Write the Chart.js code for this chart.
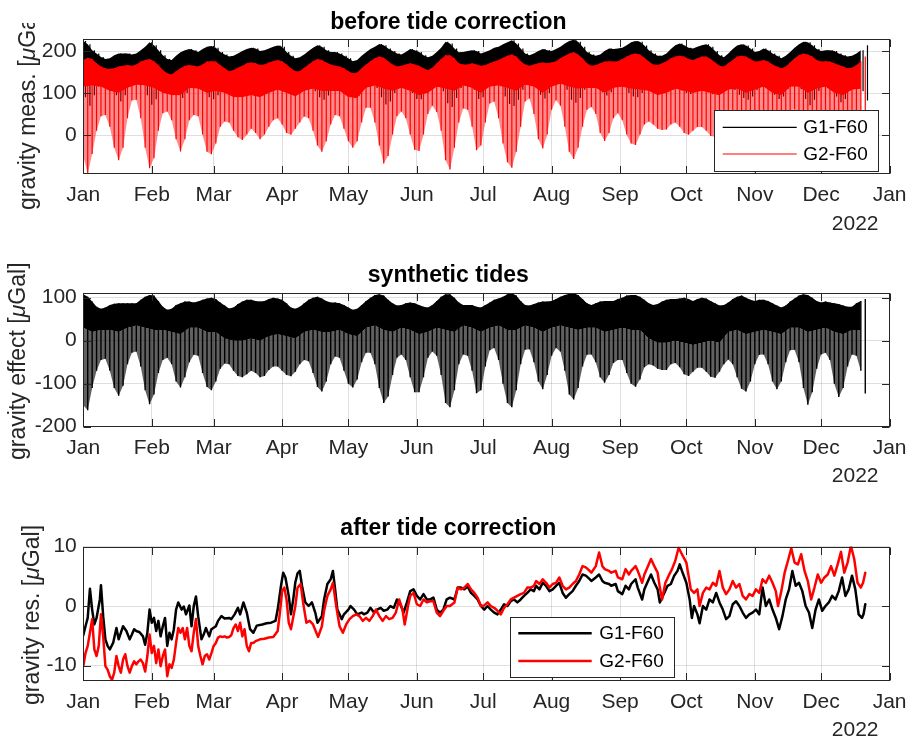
<!DOCTYPE html>
<html>
<head>
<meta charset="utf-8">
<script src="https://cdn.jsdelivr.net/npm/chart.js@4.4.1/dist/chart.umd.min.js"></script>
<style>
html,body{margin:0;padding:0;background:#fff;}
#wrap{position:relative;width:915px;height:738px;overflow:hidden;background:#fff;}
canvas{position:absolute;left:0;}
</style>
</head>
<body>
<div id="wrap">
<canvas id="c1" width="915" height="250" style="top:0px"></canvas>
<canvas id="c2" width="915" height="250" style="top:250px"></canvas>
<canvas id="c3" width="915" height="238" style="top:500px"></canvas>
</div>
<script>
// ---------------- DATA ----------------
const monthTicks = [0,31,59,90,120,151,181,212,243,273,304,334,365];
const monthLabels = ['Jan','Feb','Mar','Apr','May','Jun','Jul','Aug','Sep','Oct','Nov','Dec','Jan'];
const yearLabel = '2022';
const ticksTop = [0,100,200];
const ticksMid = [-200,-100,0,100];
const ticksBot = [-10,0,10];
const seriesNames = ['G1-F60','G2-F60'];
const plotTitles = ['before tide correction','synthetic tides','after tide correction'];
const yTitleTop = [['gravity meas. [',false],['\u03bc',true],['Gal]',false]];
const yTitleMid = [['gravity effect [',false],['\u03bc',true],['Gal]',false]];
const yTitleBot = [['gravity res. [',false],['\u03bc',true],['Gal]',false]];

// envelope values every 2 days (day 0..354): upper / lower extremes of the tidal oscillation
const ENV_STEP = 2;
const CORE_STEP = 4;
const g1Hi = [224,216,202,194,186,181,183,190,194,194,194,192,194,202,210,221,214,202,190,181,
179,189,197,202,205,202,198,205,210,212,208,198,192,187,189,194,200,205,208,206,
200,202,206,210,213,210,198,189,183,185,192,200,208,214,210,202,198,198,194,189,
183,176,179,189,197,205,210,217,214,206,200,194,192,198,205,202,198,190,185,189,
198,208,222,218,206,197,198,200,202,200,194,198,202,208,210,216,221,226,218,206,
194,190,194,200,205,202,200,205,210,218,224,227,222,210,198,192,189,192,200,206,
205,206,208,214,221,224,222,213,202,194,189,189,194,205,214,218,214,208,206,210,
214,216,210,200,190,185,194,205,213,216,213,206,198,200,206,202,194,189,183,189,
198,208,216,222,221,214,205,200,202,202,200,194,190,187,189,194,202,214];
const g1Lo = [90,70,95,115,128,130,118,95,80,95,118,132,134,120,95,72,85,108,125,128,
118,100,88,100,120,130,128,110,90,85,95,110,115,114,106,98,95,100,106,102,
95,100,108,114,116,110,102,100,106,112,118,116,104,90,84,94,110,119,118,106,
94,88,94,112,126,126,112,90,73,80,100,118,122,116,100,86,85,100,120,128,
122,104,76,67,88,112,125,124,108,86,90,112,130,132,116,92,74,69,84,108,
132,135,120,96,87,100,124,133,128,108,84,77,88,108,124,127,120,102,94,102,
116,121,114,100,92,90,100,110,113,110,104,102,103,108,110,106,100,98,102,106,
106,102,97,96,102,109,113,107,96,88,84,92,107,117,118,111,96,86,92,109,
121,123,109,86,71,84,105,119,120,113,92,78,86,105,118,117,104,82];
const g1Core = [172,173,155,149,155,159,160,171,168,147,136,151,159,155,167,167,151,147,157,165,
159,165,171,160,144,152,168,171,160,155,144,141,160,175,176,160,157,163,157,147,
163,182,175,160,163,157,163,171,181,179,160,160,165,165,175,186,184,163,159,167,
167,173,184,184,167,159,168,179,179,171,179,173,157,163,179,179,167,171,160,151,
165,182,184,171,168,163,155,152,168];

const g2Hi = [179,184,181,171,163,159,157,159,163,165,167,165,168,175,179,181,176,167,155,147,
144,152,159,165,167,165,163,168,175,176,175,167,159,152,155,160,165,171,173,171,
167,168,173,176,179,176,168,159,152,152,160,168,176,181,179,173,168,165,163,159,
152,147,149,159,168,176,183,187,184,176,168,163,165,168,171,168,165,159,155,160,
171,181,190,190,183,171,168,168,171,168,165,167,171,175,179,184,189,192,187,176,
168,165,168,171,173,171,173,176,183,189,194,197,192,183,171,165,167,171,175,176,
175,176,181,187,192,194,192,184,175,168,167,171,176,183,187,189,187,181,179,183,
187,187,181,173,165,163,171,179,187,189,187,181,175,176,179,175,168,163,159,163,
173,183,190,194,192,187,179,175,176,175,171,167,163,159,160,167,176,187];
const g2Lo = [-50,-92,-45,10,45,48,20,-30,-60,-30,40,82,84,40,-30,-79,-55,10,52,56,
35,-10,-39,-10,35,48,45,0,-40,-46,-20,20,32,30,10,-5,-12,0,15,5,
-10,0,20,35,40,25,5,0,15,30,44,40,10,-25,-40,-15,25,48,45,15,
-15,-30,-15,30,65,65,30,-25,-68,-50,0,45,56,40,0,-35,-38,0,50,70,
55,10,-60,-82,-30,30,63,60,20,-36,-25,30,75,80,40,-20,-65,-78,-40,20,
80,87,50,-10,-32,0,60,83,70,20,-40,-57,-30,20,60,67,50,5,-14,5,
40,52,35,0,-20,-24,0,25,32,25,15,12,13,25,30,20,5,0,10,19,
19,10,-2,-4,10,27,37,22,-5,-25,-36,-15,22,47,50,32,-5,-31,-15,27,
57,61,27,-30,-67,-35,17,52,54,37,-15,-49,-30,17,50,47,15,-41];
const g2Core = [115,118,115,105,100,112,120,118,112,100,95,95,112,110,100,105,100,90,90,95,
90,100,108,100,92,105,110,105,105,105,90,88,112,118,110,105,112,105,95,100,
115,110,105,118,112,100,115,118,112,105,120,115,100,115,122,115,110,112,112,100,
112,115,110,108,105,95,100,110,105,100,105,100,95,108,110,100,108,115,100,95,
115,115,100,110,115,100,95,108,110];

const tideHi = [108,102,91,79,74,77,83,86,87,87,87,87,87,95,102,106,105,92,79,72,
74,83,87,91,91,89,91,95,98,100,97,89,82,75,77,85,91,95,95,92,
91,92,97,100,98,95,87,77,74,79,87,95,100,102,98,92,89,89,87,83,
77,72,74,83,92,100,106,108,105,95,87,82,83,87,89,87,83,79,77,83,
92,102,108,108,100,89,83,83,83,79,77,83,89,95,98,102,108,110,105,92,
83,82,85,89,91,91,92,97,102,106,109,110,106,97,87,83,87,91,92,92,
92,97,100,105,106,106,102,95,87,83,85,91,95,97,97,98,100,97,92,97,
100,98,92,87,82,83,89,97,102,105,100,95,92,95,95,92,87,82,77,82,
91,98,105,108,106,100,92,89,91,89,87,85,82,79,79,87,92,97];
const tideLo = [-150,-162,-110,-70,-45,-42,-70,-110,-128,-105,-55,-28,-25,-60,-115,-148,-125,-75,-45,-40,
-55,-95,-109,-85,-50,-33,-35,-75,-108,-115,-95,-65,-53,-55,-70,-82,-85,-78,-70,-75,
-85,-82,-68,-60,-60,-70,-80,-83,-72,-55,-45,-48,-75,-108,-118,-95,-55,-37,-40,-70,
-100,-109,-90,-50,-28,-28,-55,-110,-145,-130,-80,-40,-32,-45,-85,-120,-120,-85,-40,-25,
-35,-80,-145,-155,-115,-55,-32,-35,-70,-122,-115,-60,-22,-17,-45,-100,-145,-155,-115,-55,
-21,-20,-50,-95,-113,-80,-35,-17,-25,-70,-125,-137,-110,-60,-33,-32,-50,-85,-98,-80,
-52,-45,-45,-75,-100,-107,-90,-62,-55,-58,-65,-68,-68,-55,-52,-62,-78,-82,-72,-63,
-63,-72,-84,-86,-72,-55,-44,-55,-85,-112,-118,-95,-55,-33,-32,-55,-95,-113,-95,-50,
-22,-21,-50,-110,-149,-120,-65,-32,-28,-45,-100,-131,-110,-60,-32,-35,-70,-123];
const tideCore = [30,20,25,25,20,30,35,30,25,25,20,15,30,30,20,20,5,0,0,5,
0,10,15,10,5,20,25,20,20,25,15,10,30,35,25,20,30,25,15,20,
30,25,20,35,30,20,30,35,25,25,35,30,20,30,35,30,25,30,30,20,
25,30,25,25,5,-5,-5,0,-5,-10,-5,0,-5,20,25,15,20,25,20,15,
30,30,20,25,30,20,15,25,25];

// residuals after tide correction: [day of year, µGal]
const g1Res = [[0,-4.9],[1,-3.4],[2,-2],[3,2.9],[4,-0.6],[5,-3.1],[6,-2],[7.5,1.1],[8,3.5],[9,-1.7],[10,-5.6],[11,-6.7],[12,-7.3],[13.5,-6.2],[15,-3.7],[16,-5.6],[17,-4.5],[18,-3.4],[19.5,-4.2],[21,-5.6],[22,-4.8],[23,-3.9],[24,-4.2],[25.5,-4.4],[27,-5.1],[28,-6.5],[29,-4.5],[30,-0.6],[31,-2.8],[32,-2],[33,-4.2],[34,-2.5],[35,-5.1],[36,-3.4],[37,-2],[38,-6.7],[39,-4.5],[40,-5.6],[41,-3.9],[42,-0.6],[43,0.6],[44.5,-0.6],[45.5,-0.1],[46.5,-1.4],[48,0.1],[49,-3.4],[50,0],[51,1.6],[52,-1.7],[53.5,-5.6],[54.5,-4.8],[55.5,-3.7],[57,-5.1],[58,-3.9],[60,-3.4],[61,-2.5],[62.5,-1.7],[64,-2.1],[66,-2],[67,-2.2],[68.5,-1.4],[70,-0.3],[71,-1.4],[72.5,0.6],[74,-1.1],[75.5,-3.9],[77,-4.5],[78.5,-3.3],[81,-3.1],[83,-2.9],[85,-2.8],[87,-2.5],[88,-0.6],[89.5,3.4],[90.5,5.6],[91.5,4.8],[93,1.7],[94,-1.4],[95,1],[96,4],[97,5.5],[98,5.9],[99,3.4],[100.5,0.6],[102,0],[103.5,0.6],[105,-1.1],[106,-2.8],[108,-1.7],[109,1.1],[110.5,3.7],[112,4.5],[113,5.9],[114,2.8],[115,-0.6],[117,-2.2],[118,-1.4],[120,-0.6],[121,0],[122.6,-0.6],[124,-1.4],[126,-1.1],[127,-1.4],[128.6,-1.1],[130,-0.3],[131.6,-1.1],[133,-0.6],[134.6,-0.3],[136,-0.8],[137.6,-0.6],[139,0],[140.6,-0.3],[142,1.1],[143.5,0.3],[145,-1.1],[146.5,0.6],[148,2.5],[149.5,2.8],[151,1.7],[152.5,1.1],[154,2],[155.5,1.1],[157,1.1],[158.5,1.4],[160,-0.6],[161.5,-1.1],[163,-0.6],[164.5,1.1],[166,1.4],[168,1.1],[169.5,3.1],[171,3.1],[172.5,2.8],[174,3.3],[175.5,2.2],[177,1.7],[178.5,1.1],[180,0],[181.5,-0.6],[183,0],[184.5,-0.6],[186,-1.1],[187.5,-1.4],[189,-0.6],[190.5,0.3],[192,0],[193.5,0.8],[195,1.1],[196.5,0.6],[198,1.1],[199.5,1.7],[201,2.2],[202.5,2.8],[204,2.5],[205,3.4],[206.5,2.8],[208,3.9],[209.5,3.4],[211,2.5],[212.5,2.8],[214,3.4],[215.5,3.9],[217,2.2],[218.5,1.4],[220,2],[221.5,2.5],[223,3.4],[224.5,4.2],[226,5.3],[227.5,5.1],[229,4.6],[230,4.2],[232,4.8],[233.5,5.3],[235,4.2],[236,3.9],[238,3.7],[239,3.4],[241,3.7],[242,2.5],[244,2],[245.5,3.4],[247,2.8],[248,3.7],[250,4.5],[251,3.1],[253,1.1],[254,2.8],[256,4.5],[257,5.3],[258.5,3.9],[260,2.8],[261,0.6],[263,2.2],[264.5,3.4],[266,3.7],[267.5,5.1],[269,5.9],[270,7],[271,5.9],[273,3.9],[274.5,1.1],[275.5,-2],[276.5,0],[278,-1.4],[279,-2.9],[280.5,0],[282,-0.6],[283.5,1.1],[285,0.6],[286.5,2.2],[288,0.6],[289.5,-0.6],[291,-2.2],[292.5,-1.7],[294,0.3],[295.5,0.8],[297,0],[298.5,-1.1],[300,-2],[301.5,-1.4],[303,-1.1],[304.5,-0.6],[306,-1.4],[307.5,3.1],[309,0],[310.5,1.1],[312,-0.6],[313.5,-2],[315,-3.9],[316.5,-1.7],[318,1.1],[319.5,2.8],[321,5.9],[322.5,3.4],[324,3.9],[325.5,2.5],[327,0],[328.5,-1.1],[330,-3.7],[331.5,-0.6],[333,1.1],[334.5,-0.8],[336,0],[337.5,0.6],[339,1.7],[340.5,1.1],[342,2.5],[343.5,4.8],[345,1.7],[346.5,2.8],[348,5.1],[349.5,2.8],[351,-1.4],[352.5,-2],[353.2,-1.4],[354,0.3]];
const g2Res = [[0,-10.1],[1,-7.9],[2,-6.7],[3,-4.5],[4,-2.2],[5,-7.3],[6,-8.4],[7,-6.7],[8,-1.4],[9,-5.1],[10,-10.1],[11,-10.7],[12,-11.8],[13,-12.4],[14,-11.2],[15,-8.4],[16,-10.1],[17,-11.2],[18,-9],[19,-8.1],[20,-10.1],[21,-11.2],[22,-10.1],[23,-9.3],[24,-9.8],[25,-9.3],[26,-9],[27,-9.6],[28,-11],[29,-8.4],[30,-4.8],[31,-7.9],[32,-6.7],[33,-9.6],[34,-7.3],[35,-10.1],[36,-8.4],[37,-7.3],[38,-11.8],[39,-9.8],[40,-10.4],[41,-9],[42,-6.2],[43,-3.7],[44,-4.5],[45,-3.7],[46,-5.6],[47,-3.7],[48,-6.7],[49,-7.6],[50,-4.5],[51,-2.2],[52,-6.7],[53,-8.4],[54,-9.8],[55,-8.4],[56,-8.1],[57,-9],[58,-7.9],[59,-6.7],[60,-6.2],[61,-5.3],[62,-5.1],[63,-5.2],[64,-5.1],[65,-5.3],[66,-5.2],[67,-4.9],[68,-3.7],[69,-3.1],[70,-4.2],[71,-2.8],[72,-5.1],[73,-3.9],[74,-6.7],[75,-7.6],[76,-6.2],[77,-6.2],[78,-5.9],[80,-5.6],[82,-5.5],[84,-5.3],[86,-5.2],[88,-4.2],[89,-1.1],[90,2.5],[91,3.1],[92,1.1],[93,-2.8],[94,-3.9],[96,0],[97,3.1],[98.4,3.7],[99.5,0.6],[101,-2.8],[102.5,-2.5],[104,-3.1],[105.5,-4.5],[106.3,-5.2],[108,-3.4],[109,-0.8],[110.5,1.7],[112,2.8],[113,3.9],[114.5,0],[116,-3.4],[117.5,-4.5],[119,-3.1],[120.5,-2.2],[122,-1.7],[123.5,-1.4],[125,-1.7],[126.5,-2.5],[128,-2],[129.5,-2.5],[131,-1.7],[132.5,-0.6],[134,-1.7],[135.5,-2.5],[137,-1.7],[138.5,-2.2],[140,-2],[141.5,-1.1],[143,1.1],[144.5,-0.6],[145.5,-3.1],[147,0],[148,1.7],[149.5,2.2],[151,0.3],[152.5,0],[154,1.1],[155.5,0.6],[157,0.8],[158.5,0.8],[160,-1.1],[161.5,-1.7],[163,-0.8],[164.5,0],[166,0],[168,0.6],[169.5,3.1],[171,2.8],[172.5,3.1],[174,3.7],[175.5,2.8],[177,2.2],[178.5,1.4],[180,0],[181.5,0.1],[183,0.6],[184.5,0],[186,-0.3],[187.5,-0.8],[189,-1.4],[190.5,-0.3],[192,0.3],[193.5,1.1],[195,1.4],[196.5,1.7],[198,2],[199.5,2.2],[201,3.1],[202.5,3.1],[204,3.4],[205,4.2],[206.5,3.7],[208,4.5],[209.5,3.9],[211,3.1],[212.5,3.7],[214,3.9],[215.5,4.8],[217,3.4],[218.5,2.8],[220,3.1],[221.5,3.7],[223,4.2],[224.5,5.3],[226,6.7],[227.5,6.5],[229,6],[230,5.6],[232,6.7],[233.5,9],[235,6.7],[236,6.2],[238,5.9],[239,5.6],[241,5.9],[242,4.8],[244,4.5],[245.5,6.2],[247,5.3],[248,5.9],[250,6.7],[251,5.9],[253,3.9],[254,5.3],[256,7],[257,7.9],[258.5,6.7],[260,5.6],[261,3.1],[262,1.1],[263.5,3.9],[265,5.1],[266.5,6.2],[268,7.6],[269.5,9.8],[271,8.7],[273,7.3],[274,5.1],[275,2.8],[276.5,2.2],[278,2.8],[279,0],[280.5,2.2],[282,3.1],[283.5,2.8],[285,3.9],[286.5,3.4],[288,5.9],[289.5,3.1],[291,2],[292.5,2.8],[294,4.2],[295.5,3.1],[297,3.7],[298.5,1.7],[300,1.1],[301.5,2],[303,1.7],[304.5,2.8],[306,2.2],[307.5,4.5],[309,3.9],[310.5,5.1],[312,3.9],[313.5,2.5],[314.5,0],[316,2.5],[317.5,5.6],[319,7.6],[320.5,9.7],[322,7.3],[323.5,7],[325,8.7],[326.5,5.9],[328,4.2],[329.5,1.1],[331,3.1],[332.5,5.3],[334,3.9],[335.5,4.8],[337,5.3],[338.5,6.7],[340,5.1],[341.5,7],[343,9.1],[344.5,5.6],[346,7.3],[347.5,10.1],[349,7.9],[350.5,3.9],[352,3.1],[353,3.9],[354,5.6]];

// ---------------- RENDERING ----------------
const FONT = '"Liberation Sans", Arial, Helvetica, sans-serif';
const AX = '#262626';
const GRID = 'rgba(38,38,38,0.15)';
const RED = '#ff0000';
const BLACK = '#000000';
const NONE = 'rgba(0,0,0,0)';

function rangeBars(hi, lo, shift){ return hi.map((v,i)=>({x: i*ENV_STEP + shift, y: [lo[i], v]})); }
function envelope(arr, step){ return arr.map((v,i)=>({x:i*step, y:v})); }
function pairs(arr){ return arr.map(p=>({x:p[0], y:p[1]})); }

const matlabPlugin = {
  id: 'matlab',
  afterDraw(chart, args, o) {
    const ctx = chart.ctx, a = chart.chartArea, xs = chart.scales.x, ys = chart.scales.y;
    ctx.save();
    const L = Math.round(a.left)+0.5, R = Math.round(a.right)-0.5, T = Math.round(a.top)+0.5, B = Math.round(a.bottom)-0.5;
    ctx.strokeStyle = AX; ctx.lineWidth = 1;
    ctx.beginPath();
    xs.ticks.forEach(t=>{ const p = Math.round(xs.getPixelForValue(t.value))+0.5;
      ctx.moveTo(p,B); ctx.lineTo(p,B-7.5); ctx.moveTo(p,T); ctx.lineTo(p,T+7.5); });
    ys.ticks.forEach(t=>{ const p = Math.round(ys.getPixelForValue(t.value))+0.5;
      ctx.moveTo(L,p); ctx.lineTo(L+7.5,p); ctx.moveTo(R,p); ctx.lineTo(R-7.5,p); });
    ctx.stroke();
    ctx.strokeRect(L, T, R-L, B-T);
    // y title with italic mu
    ctx.save();
    if (o.titleClipTop) { ctx.beginPath(); ctx.rect(0, o.titleClipTop, a.left - 10, chart.height); ctx.clip(); }
    ctx.translate(o.yTitleX, o.yTitleStart);
    ctx.rotate(-Math.PI/2);
    ctx.textBaseline = 'middle'; ctx.textAlign = 'left'; ctx.fillStyle = AX;
    let px = 0;
    o.yTitle.forEach(([txt, it])=>{
      ctx.font = (it ? 'italic ' : '') + '23px ' + FONT;
      ctx.fillText(txt, px, 0);
      px += ctx.measureText(txt).width;
    });
    ctx.restore();
    // year label
    ctx.font = '21px ' + FONT; ctx.fillStyle = AX; ctx.textAlign = 'right'; ctx.textBaseline = 'middle';
    ctx.fillText(yearLabel, 878.5, a.bottom + 49.5);
    // legend
    if (o.legend) {
      const g = o.legend;
      const bx0 = Math.round(g.x0)+0.5, by0 = Math.round(g.y0)+0.5, bx1 = Math.round(g.x1)+0.5, by1 = Math.round(g.y1)+0.5;
      ctx.fillStyle = '#ffffff';
      ctx.fillRect(bx0, by0, bx1-bx0, by1-by0);
      ctx.strokeStyle = AX; ctx.lineWidth = 1;
      ctx.strokeRect(bx0, by0, bx1-bx0, by1-by0);
      g.items.forEach(it=>{
        ctx.strokeStyle = it.color; ctx.lineWidth = it.lw;
        ctx.beginPath(); ctx.moveTo(g.lx0, it.y); ctx.lineTo(g.lx1, it.y); ctx.stroke();
        ctx.fillStyle = '#000'; ctx.font = '19px ' + FONT; ctx.textAlign = 'left'; ctx.textBaseline = 'middle';
        ctx.fillText(it.text, g.tx, it.y + 0.5);
      });
    }
    ctx.restore();
  }
};

function makeChart(id, c) {
  return new Chart(document.getElementById(id), {
    type: 'line',
    data: { datasets: c.datasets },
    options: {
      responsive: false, animation: false, events: [],
      devicePixelRatio: 1,
      layout: { padding: { left: 0, right: 18.3, top: 0, bottom: 0 } },
      elements: { point: { radius: 0 }, line: { tension: 0, borderJoinStyle: 'round', borderCapStyle: 'round' } },
      plugins: {
        legend: { display: false }, tooltip: { enabled: false },
        title: { display: true, text: c.title, color: '#000',
                 font: { family: FONT, size: 23, weight: 'bold' }, padding: { top: c.tPad[0], bottom: c.tPad[1] } },
        matlab: { yTitle: c.yTitle, yTitleX: c.yTitleX, yTitleStart: c.yTitleStart, titleClipTop: c.titleClipTop, legend: c.legend }
      },
      scales: {
        x: { type: 'linear', min: 0, max: 365, offset: false,
             afterBuildTicks: s => { s.ticks = monthTicks.map(v => ({ value: v })); },
             afterFit: s => { s.height = c.xH; },
             ticks: { autoSkip: false, maxRotation: 0, minRotation: 0, padding: 8.5, color: AX,
                      font: { family: FONT, size: 21 }, callback: v => monthLabels[monthTicks.indexOf(v)] },
             grid: { color: GRID, drawTicks: false, lineWidth: 1, offset: false }, border: { display: false } },
        y: { type: 'linear', min: c.yMin, max: c.yMax, beginAtZero: false, stacked: false,
             afterBuildTicks: s => { s.ticks = c.yTicks.map(v => ({ value: v })); },
             afterFit: s => { s.width = 83.3; },
             ticks: { padding: 6.5, color: AX, font: { family: FONT, size: 21 }, callback: v => String(v) },
             grid: { color: GRID, drawTicks: false, lineWidth: 1 }, border: { display: false } }
      }
    },
    plugins: [matlabPlugin]
  });
}

// thin range bars (one per sample) give the striped texture of the dense oscillation
const hatch = (data, color, thick, order) => ({ type: 'bar', data, backgroundColor: color, borderWidth: 0,
  barThickness: thick, inflateAmount: 0, grouped: true, stack: 'h', order });
// area between an envelope and the core line
const area = (label, data, target, color, order) => ({ type: 'line', label, data, borderColor: NONE, borderWidth: 0,
  backgroundColor: color, fill: target, order });

makeChart('c1', {
  title: plotTitles[0], tPad: [8.9, 2.8], xH: 75.7,
  yMin: -93.5, yMax: 228, yTicks: ticksTop,
  yTitle: yTitleTop, yTitleX: 29, yTitleStart: 210, titleClipTop: 23,
  legend: { x0: 714.3, y0: 110, x1: 878.3, y1: 170.7, lx0: 722.7, lx1: 796.7, tx: 803.3,
            items: [{ text: seriesNames[0], color: BLACK, lw: 1.2, y: 127.3 }, { text: seriesNames[1], color: RED, lw: 1.2, y: 154 }] },
  datasets: [
    Object.assign(hatch(rangeBars(g2Hi, g2Lo, 0), RED, 1.2, 1), { label: seriesNames[1] }),
    area('g2low', envelope(g2Lo, ENV_STEP), 3, 'rgba(255,0,0,0.45)', 2),
    area('g2band', envelope(g2Hi, ENV_STEP), 3, RED, 2),
    area('g2core', envelope(g2Core, CORE_STEP), false, NONE, 2),
    Object.assign(hatch(rangeBars(g1Hi, g1Lo, 1), BLACK, 1.2, 4), { label: seriesNames[0] }),
    area('g1band', envelope(g1Hi, ENV_STEP), 6, BLACK, 5),
    area('g1core', envelope(g1Core, CORE_STEP), false, NONE, 5)
  ]
});

makeChart('c2', {
  title: plotTitles[1], tPad: [11.5, 3.6], xH: 73.3,
  yMin: -200, yMax: 111.5, yTicks: ticksMid,
  yTitle: yTitleMid, yTitleX: 19, yTitleStart: 210,
  legend: null,
  datasets: [
    Object.assign(hatch(rangeBars(tideHi, tideLo, 0), BLACK, 1.4, 1), { label: 'tides' }),
    area('tidelow', envelope(tideLo, ENV_STEP), 3, 'rgba(0,0,0,0.62)', 2),
    area('tideband', envelope(tideHi, ENV_STEP), 3, BLACK, 2),
    area('tidecore', envelope(tideCore, CORE_STEP), false, NONE, 2)
  ]
});

makeChart('c3', {
  title: plotTitles[2], tPad: [14.9, 4.0], xH: 57,
  yMin: -12.6, yMax: 10, yTicks: ticksBot,
  yTitle: yTitleBot, yTitleX: 33, yTitleStart: 205,
  legend: { x0: 510, y0: 117.3, x1: 674, y1: 176.7, lx0: 518.3, lx1: 591.7, tx: 599.3,
            items: [{ text: seriesNames[0], color: BLACK, lw: 2.5, y: 133.3 }, { text: seriesNames[1], color: RED, lw: 2.5, y: 161 }] },
  datasets: [
    { label: seriesNames[1], data: pairs(g2Res), borderColor: RED, borderWidth: 2.5, fill: false, order: 1 },
    { label: seriesNames[0], data: pairs(g1Res), borderColor: BLACK, borderWidth: 2.5, fill: false, order: 2 }
  ]
});
</script>
</body>
</html>
